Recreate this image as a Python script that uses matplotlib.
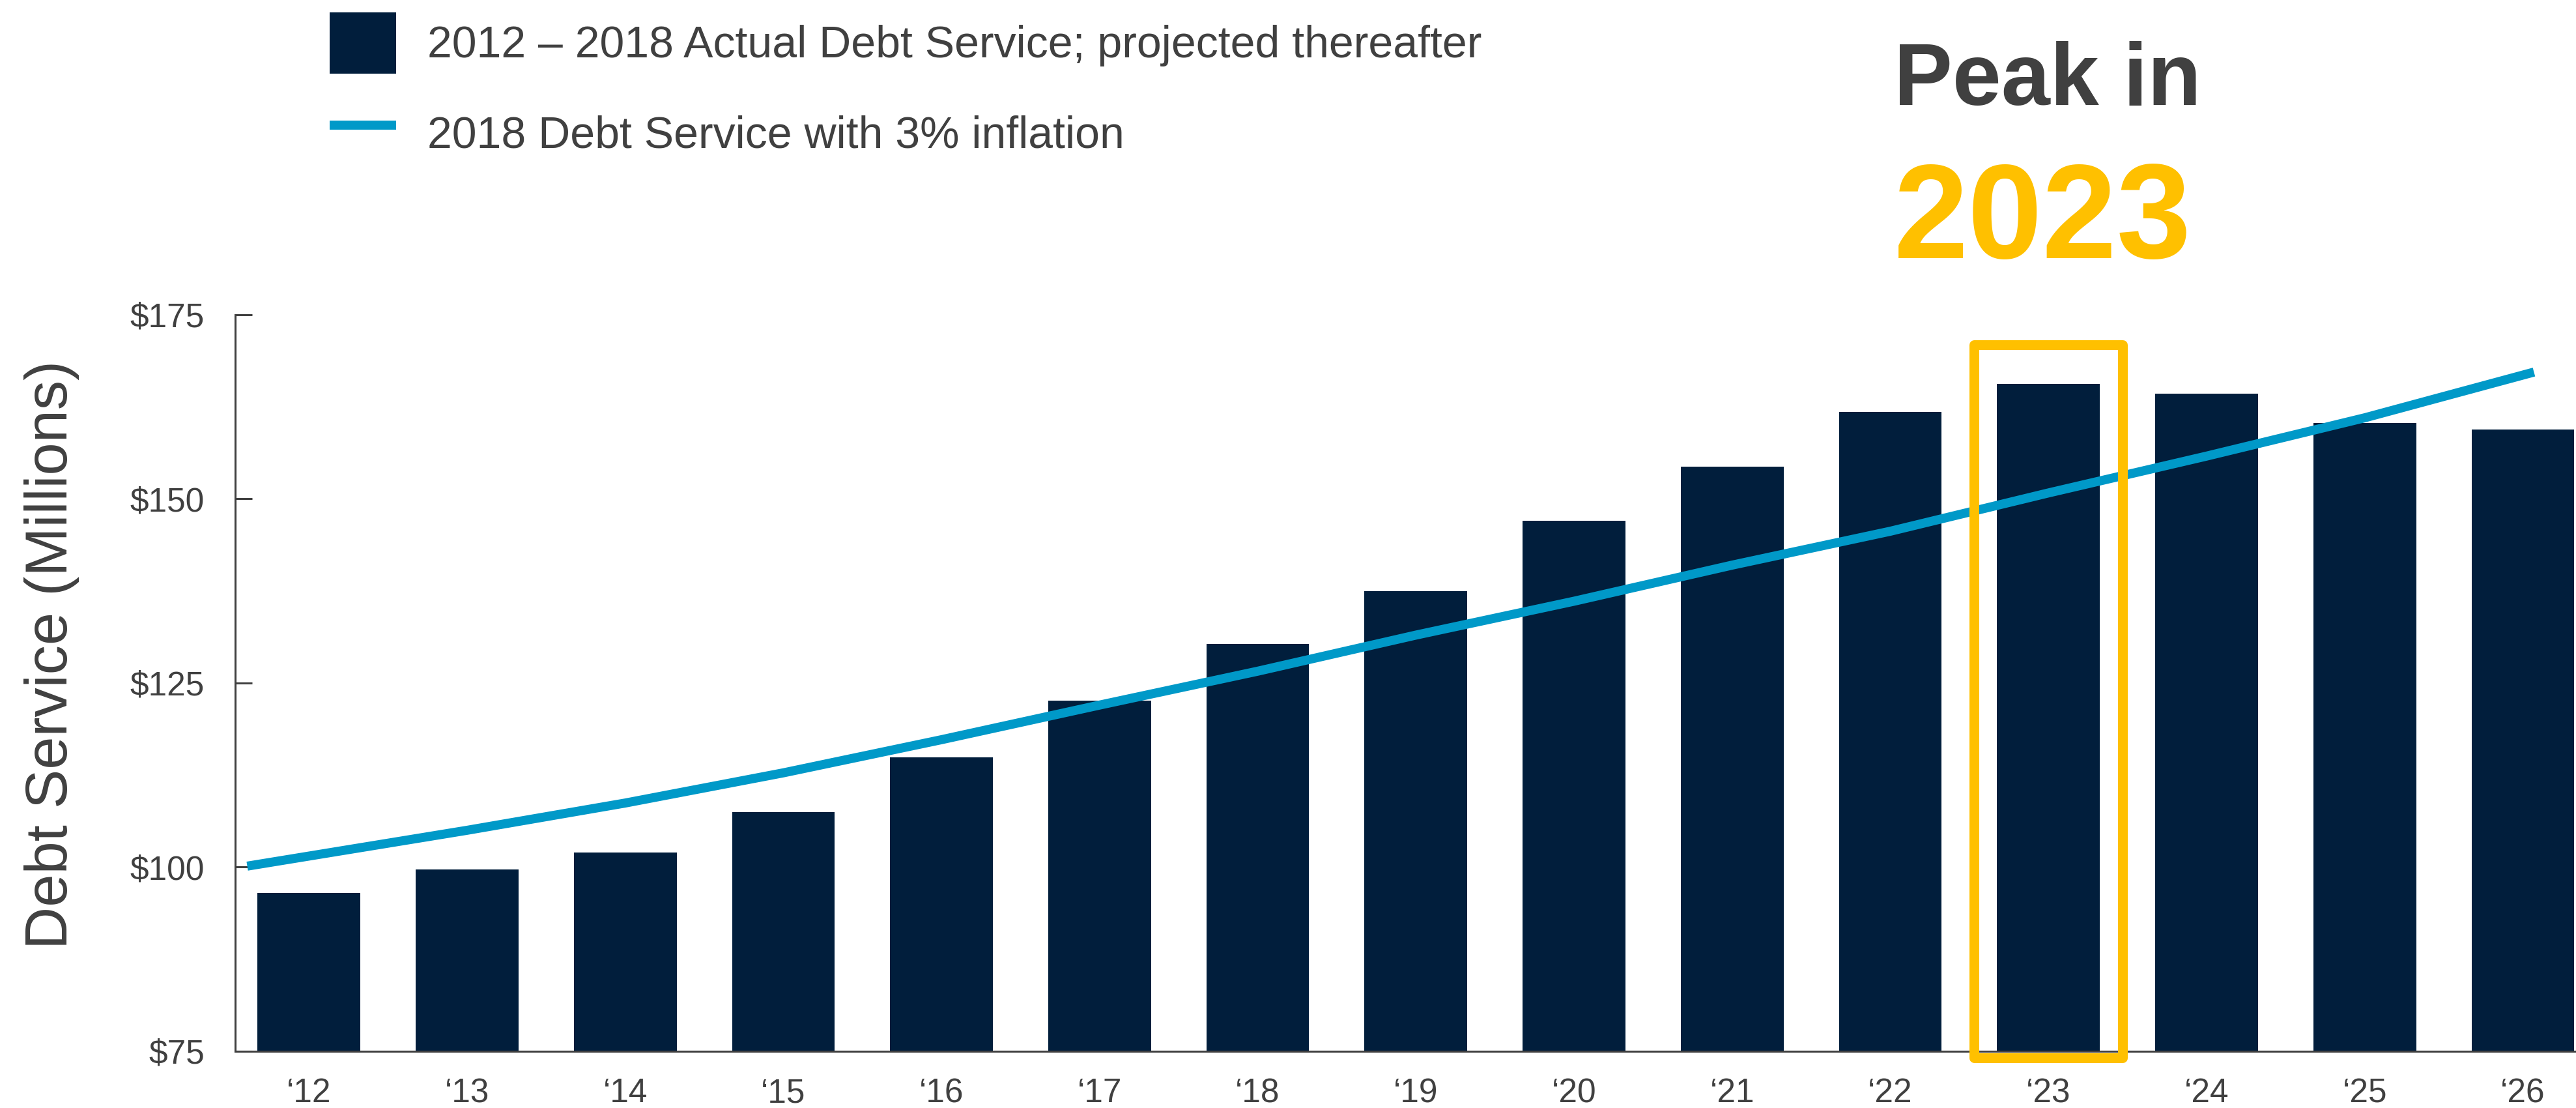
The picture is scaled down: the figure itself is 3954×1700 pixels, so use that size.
import numpy as np
import matplotlib
matplotlib.use('Agg')
import matplotlib.pyplot as plt
from matplotlib.patches import Rectangle

plt.rcParams['font.family'] = ['Liberation Sans', 'DejaVu Sans']

# data
years = ['\u201812', '\u201813', '\u201814', '\u201815', '\u201816', '\u201817', '\u201818', '\u201819',
         '\u201820', '\u201821', '\u201822', '\u201823', '\u201824', '\u201825', '\u201826']
debt_service = [96.5, 99.7, 102.0, 107.5, 114.9, 122.6, 130.3, 137.5,
                147.0, 154.4, 161.8, 165.6, 164.3, 160.3, 159.4]
inflation_3pct = [101.5, 105.0, 108.7, 112.8, 117.3, 122.0, 126.6, 131.5,
                  136.1, 141.0, 145.6, 150.8, 155.8, 161.0, 166.8]
y_ticks = [75, 100, 125, 150, 175]
y_tick_labels = ['$75', '$100', '$125', '$150', '$175']
peak_year = '\u201823'

navy = '#011e3c'
blue = '#0099c8'
gold = '#ffc000'
grey = '#404040'

fig = plt.figure(figsize=(39.55, 17), dpi=100)
ax = fig.add_axes([0.0913, 0.0512, 0.9087, 0.6648])

x = np.arange(len(years))
bars = ax.bar(x, debt_service, width=0.65, color=navy, zorder=2)

# line runs a little past the first and last bar centres
y = np.array(inflation_3pct)
x_line = np.r_[-0.39, x, x[-1] + 0.07]
y_line = np.r_[y[0] - 0.39 * (y[1] - y[0]), y, y[-1] + 0.07 * (y[-1] - y[-2])]
line, = ax.plot(x_line, y_line, color=blue, lw=10, solid_capstyle='butt', zorder=3)

# highlight box around the peak year
i = years.index(peak_year)
box = Rectangle((x[i] - 0.469, 74.07), 0.938, 96.8, fill=False, edgecolor=gold,
                lw=10.8, joinstyle='round', clip_on=False, zorder=4)
ax.add_patch(box)

ax.set_xlim(-0.466, len(years) - 1 + 0.34)
ax.set_ylim(75, 175)
ax.set_xticks(x)
ax.set_xticklabels(years)
ax.set_yticks(y_ticks)
ax.set_yticklabels(y_tick_labels)
ax.tick_params(axis='x', length=0, pad=29, labelsize=37, labelcolor=grey)
ax.tick_params(axis='y', direction='in', length=19, width=2.2, color=grey,
               pad=34, labelsize=37, labelcolor=grey)
for s in ['top', 'right']:
    ax.spines[s].set_visible(False)
for s in ['left', 'bottom']:
    ax.spines[s].set_color(grey)
    ax.spines[s].set_linewidth(2.2)

fig.text(0.02, 0.409, 'Debt Service (Millions)', rotation=90, fontsize=65,
         color=grey, ha='center', va='center')

ax.legend([bars, line],
          ['2012 \u2013 2018 Actual Debt Service; projected thereafter',
           '2018 Debt Service with 3% inflation'],
          loc='upper left', bbox_to_anchor=(0.128, 0.989), bbox_transform=fig.transFigure,
          frameon=False, fontsize=49, labelcolor=grey, borderpad=0, borderaxespad=0,
          handlelength=1.5, handleheight=1.75, handletextpad=0.7, labelspacing=0.65)

fig.text(0.735, 0.905, 'Peak in', fontsize=97, fontweight='bold', color=grey,
         ha='left', va='baseline')
fig.text(0.735, 0.767, '2023', fontsize=148, fontweight='bold', color=gold,
         ha='left', va='baseline')

fig.savefig('out.png', dpi=100)
